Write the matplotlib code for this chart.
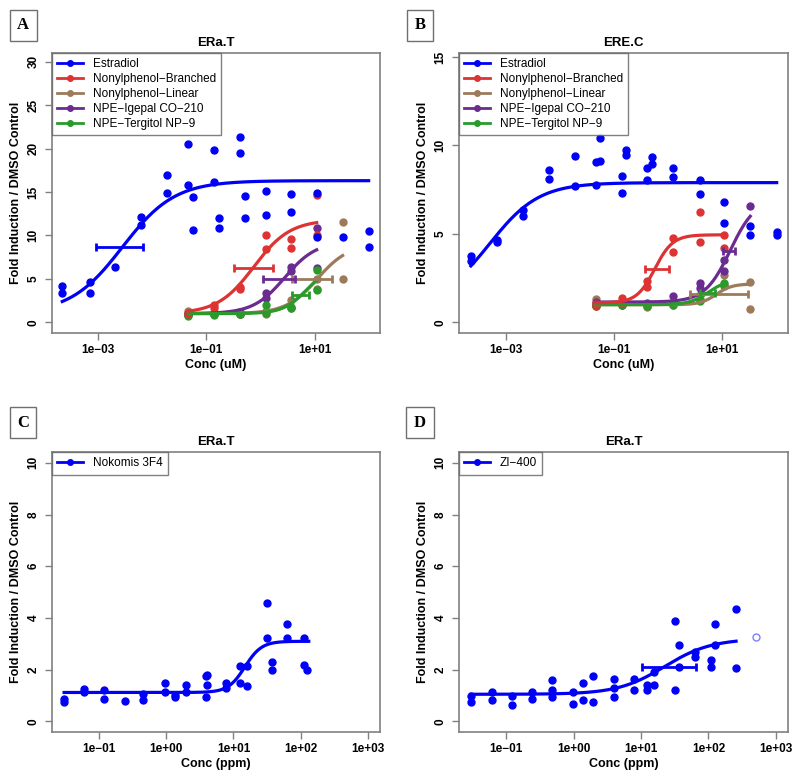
import numpy as np
import matplotlib.pyplot as plt
from matplotlib.lines import Line2D

plt.rcParams['font.family'] = ['Liberation Sans', 'DejaVu Sans']

# colours
BLUE = '#0000F5'
RED = '#DD3333'
BROWN = '#9C7B5B'
PURPLE = '#6A2C8F'
GREEN = '#2A9A2A'

# ---- Panel A: ERa.T (log10 conc in uM, fold induction) ----
A_E2_LOGC = [-3.66, -3.66, -3.15, -3.15, -2.68, -2.2, -2.2, -1.73, -1.73,
             -1.33, -1.33, -1.25, -1.25, -0.85, -0.85, -0.77, -0.77,
             -0.38, -0.38, -0.29, -0.29, 0.10, 0.10, 0.57, 0.57,
             1.04, 1.04, 1.52, 2.0, 2.0]
A_E2_RESP = [4.2, 3.4, 4.6, 3.4, 6.4, 12.1, 11.2, 16.9, 14.9,
             20.5, 15.8, 14.4, 10.6, 19.8, 16.1, 12.0, 10.8,
             21.3, 19.5, 14.5, 12.0, 15.1, 12.3, 14.8, 12.7,
             14.9, 9.8, 9.8, 10.5, 8.7]
A_NP_LOGC = [-1.33, -1.33, -0.86, -0.86, -0.38, -0.38, 0.10, 0.10, 0.57, 0.57, 1.04, 1.04]
A_NPB_RESP = [1.1, 0.9, 2.0, 1.7, 4.1, 3.8, 10.0, 8.4, 9.6, 8.5, 14.6, 10.0]
A_NPL_LOGC = A_NP_LOGC + [1.52, 1.52]
A_NPL_RESP = [1.3, 1.0, 1.1, 0.9, 1.0, 1.2, 1.0, 1.3, 2.6, 1.6, 5.0, 3.8, 11.5, 5.0]
A_IGE_RESP = [1.0, 0.8, 1.1, 1.0, 1.2, 1.0, 3.4, 2.8, 6.4, 5.9, 10.8, 6.2]
A_TER_RESP = [0.7, 0.9, 1.0, 0.8, 0.9, 1.0, 2.0, 1.1, 1.6, 1.8, 6.0, 3.7]

# Hill fits: bottom, top, log AC50, slope, log conc start, log conc end
A_E2_FIT = [1.0, 16.3, -2.55, 0.9, -3.66, 2.0]
A_NPB_FIT = [1.0, 11.8, -0.12, 1.3, -1.33, 1.04]
A_NPL_FIT = [1.0, 9.0, 1.05, 1.5, -1.33, 1.52]
A_IGE_FIT = [1.0, 9.3, 0.45, 1.5, -1.33, 1.04]
A_TER_FIT = [1.0, 6.4, 0.85, 2.0, -1.33, 1.04]
# AC50 confidence bars: response, log lo, log hi
A_E2_CI = [8.7, -3.04, -2.16]
A_NPB_CI = [6.2, -0.48, 0.23]
A_NPL_CI = [5.0, 0.58, 1.33]
A_IGE_CI = [5.0, 0.05, 0.64]
A_TER_CI = [3.1, 0.58, 0.90]

# ---- Panel B: ERE.C ----
B_E2_LOGC = [-3.65, -3.65, -3.17, -3.17, -2.68, -2.68, -2.2, -2.2, -1.72, -1.72,
             -1.33, -1.26, -1.26, -1.33, -0.85, -0.85, -0.77, -0.77,
             -0.38, -0.38, -0.29, -0.29, 0.10, 0.10, 0.59, 0.59,
             1.05, 1.05, 1.53, 1.53, 2.02, 2.02]
B_E2_RESP = [3.77, 3.45, 4.67, 4.52, 6.33, 6.03, 8.6, 8.1, 9.4, 7.7,
             9.05, 9.15, 10.4, 7.76, 8.25, 7.3, 9.76, 9.48,
             8.7, 8.07, 9.35, 8.95, 8.73, 8.2, 8.07, 7.26,
             6.8, 5.6, 5.43, 4.94, 5.1, 4.96]
B_NP_LOGC = [-1.33, -1.33, -0.85, -0.85, -0.38, -0.38, 0.10, 0.10, 0.59, 0.59, 1.05, 1.05]
B_NPB_RESP = [1.1, 0.95, 1.38, 1.1, 2.32, 1.98, 4.77, 3.96, 6.22, 4.54, 4.95, 4.2]
B_NPL_LOGC = B_NP_LOGC + [1.53, 1.53]
B_NPL_RESP = [1.3, 0.9, 1.0, 1.05, 0.85, 1.0, 1.0, 1.1, 1.3, 1.55, 2.7, 2.1, 2.3, 0.75]
B_IGE_LOGC = B_NP_LOGC + [1.53]
B_IGE_RESP = [1.15, 1.0, 1.1, 1.0, 1.0, 1.1, 1.47, 1.1, 2.22, 1.94, 3.54, 2.88, 6.6]
B_TER_RESP = [0.9, 1.0, 1.0, 1.05, 1.05, 0.95, 1.0, 1.1, 1.28, 1.2, 2.22, 2.04]

B_E2_FIT = [1.0, 7.9, -3.30, 0.95, -3.65, 2.02]
B_NPB_FIT = [1.1, 4.95, -0.24, 2.6, -1.33, 1.05]
B_NPL_FIT = [1.0, 2.17, 0.9, 3.0, -1.33, 1.53]
B_IGE_FIT = [1.15, 7.0, 1.16, 1.85, -1.33, 1.53]
B_TER_FIT = [1.0, 2.4, 0.75, 2.5, -1.33, 1.05]
B_NPB_CI = [3.03, -0.43, 0.03]
B_NPL_CI = [1.6, 0.41, 1.49]
B_IGE_CI = [4.05, 1.02, 1.25]
B_TER_CI = [1.68, 0.60, 0.88]

# ---- Panel C: Nokomis 3F4 (log10 conc in ppm) ----
C_LOGC = [-1.52, -1.52, -1.22, -1.22, -0.92, -0.92, -0.61, -0.34, -0.34,
          -0.02, -0.02, 0.13, 0.13, 0.29, 0.29, 0.59, 0.61, 0.61, 0.59,
          0.89, 0.89, 1.09, 1.09, 1.20, 1.20, 1.50, 1.50, 1.57, 1.57,
          1.79, 1.79, 2.05, 2.05, 2.10]
C_RESP = [0.86, 0.75, 1.25, 1.12, 1.2, 0.86, 0.8, 1.07, 0.84,
          1.48, 1.12, 1.03, 0.94, 1.42, 1.13, 1.76, 1.78, 1.39, 0.93,
          1.48, 1.31, 2.15, 1.48, 2.15, 1.38, 4.57, 3.22, 2.28, 2.0,
          3.76, 3.22, 3.22, 2.19, 1.97]
C_FIT = [1.12, 3.1, 1.17, 3.5, -1.52, 2.12]

# ---- Panel D: ZI-400 ----
D_LOGC = [-1.52, -1.52, -1.21, -1.21, -0.91, -0.91, -0.61, -0.61,
          -0.32, -0.32, -0.32, -0.01, -0.01, 0.14, 0.14, 0.29, 0.29,
          0.60, 0.60, 0.60, 0.90, 0.90, 1.09, 1.09, 1.19, 1.19,
          1.50, 1.50, 1.57, 1.57, 1.80, 1.80, 2.04, 2.04, 2.09, 2.09,
          2.41, 2.41]
D_RESP = [0.97, 0.75, 1.12, 0.84, 0.99, 0.62, 1.12, 0.86,
          1.61, 1.22, 0.94, 1.12, 0.68, 1.48, 0.84, 1.74, 0.75,
          1.63, 1.31, 0.93, 1.66, 1.2, 1.39, 1.22, 1.42, 1.93,
          3.9, 1.2, 2.96, 2.1, 2.7, 2.51, 2.38, 2.12, 3.76, 2.96,
          4.35, 2.08]
D_OUTLIER = [2.70, 3.26]
D_FIT = [1.05, 3.2, 1.35, 1.25, -1.52, 2.41]
D_CI = [2.1, 1.02, 1.81]


def hill(logc, fit):
    bottom, top, ac50, n = fit[:4]
    return bottom + (top - bottom) / (1 + 10 ** (n * (ac50 - logc)))


def draw_series(ax, logc, resp, fit, ci, color):
    ax.plot(10 ** np.array(logc), resp, 'o', color=color, ms=5, mec=color, zorder=3)
    xs = np.linspace(fit[4], fit[5], 200)
    ax.plot(10 ** xs, hill(xs, fit), color=color, lw=2.3, zorder=4)
    if ci is not None:
        mid = 10 ** ((ci[1] + ci[2]) / 2)
        ax.errorbar([mid], [ci[0]], xerr=[[mid - 10 ** ci[1]], [10 ** ci[2] - mid]],
                    fmt='none', ecolor=color, elinewidth=2, capsize=3, capthick=2, zorder=5)


def style_axes(ax, title, xlab, ylim, yticks, xlim, xticks):
    ax.set_xscale('log')
    ax.set_xlim(10 ** xlim[0], 10 ** xlim[1])
    ax.set_ylim(*ylim)
    ax.set_yticks(yticks)
    ax.set_xticks([10.0 ** k for k in xticks])
    ax.set_xticklabels([('1e%+03d' % k).replace('-', '\u2212') for k in xticks])
    ax.minorticks_off()
    for s in ax.spines.values():
        s.set_color('#808080')
        s.set_linewidth(1.2)
    ax.tick_params(colors='#808080', length=5, width=1, labelcolor='black', labelsize=8.5)
    ax.tick_params(axis='y', labelrotation=90, pad=4)
    ax.tick_params(axis='x', pad=3)
    for lab in ax.get_xticklabels() + ax.get_yticklabels():
        lab.set_fontweight('bold')
    for lab in ax.get_yticklabels():
        lab.set_va('center')
    ax.set_title(title, fontsize=9.5, fontweight='bold', pad=5)
    ax.set_xlabel(xlab, fontsize=9, fontweight='bold', labelpad=2)
    ax.set_ylabel('Fold Induction / DMSO Control', fontsize=9, fontweight='bold', labelpad=4)


def add_legend(ax, names, colors):
    handles = [Line2D([], [], color=c, lw=2, marker='o', ms=4) for c in colors]
    leg = ax.legend(handles, names, loc='upper left', borderaxespad=0, fancybox=False,
                    fontsize=8.5, handlelength=2.2, labelspacing=0.25, numpoints=1,
                    borderpad=0.45, handletextpad=0.8)
    leg.get_frame().set_edgecolor('#606060')
    leg.get_frame().set_linewidth(1.0)


fig = plt.figure(figsize=(8, 7.8), dpi=100)
ax_a = fig.add_axes([0.065, 0.5731, 0.41, 0.359])
ax_b = fig.add_axes([0.57375, 0.5731, 0.41125, 0.359])
ax_c = fig.add_axes([0.065, 0.0615, 0.41, 0.359])
ax_d = fig.add_axes([0.57375, 0.0615, 0.41125, 0.359])

names = ['Estradiol', 'Nonylphenol\u2212Branched', 'Nonylphenol\u2212Linear',
         'NPE\u2212Igepal CO\u2212210', 'NPE\u2212Tergitol NP\u22129']
cols = [BLUE, RED, BROWN, PURPLE, GREEN]

# panel A
draw_series(ax_a, A_NPL_LOGC, A_NPL_RESP, A_NPL_FIT, A_NPL_CI, BROWN)
draw_series(ax_a, A_NP_LOGC, A_IGE_RESP, A_IGE_FIT, A_IGE_CI, PURPLE)
draw_series(ax_a, A_NP_LOGC, A_TER_RESP, A_TER_FIT, A_TER_CI, GREEN)
draw_series(ax_a, A_NP_LOGC, A_NPB_RESP, A_NPB_FIT, A_NPB_CI, RED)
draw_series(ax_a, A_E2_LOGC, A_E2_RESP, A_E2_FIT, A_E2_CI, BLUE)
style_axes(ax_a, 'ERa.T', 'Conc (uM)', (-1.23, 31.0), [0, 5, 10, 15, 20, 25, 30],
           (-3.85, 2.21), [-3, -1, 1])
add_legend(ax_a, names, cols)

# panel B
draw_series(ax_b, B_NPL_LOGC, B_NPL_RESP, B_NPL_FIT, B_NPL_CI, BROWN)
draw_series(ax_b, B_IGE_LOGC, B_IGE_RESP, B_IGE_FIT, B_IGE_CI, PURPLE)
draw_series(ax_b, B_NP_LOGC, B_TER_RESP, B_TER_FIT, B_TER_CI, GREEN)
draw_series(ax_b, B_NP_LOGC, B_NPB_RESP, B_NPB_FIT, B_NPB_CI, RED)
draw_series(ax_b, B_E2_LOGC, B_E2_RESP, B_E2_FIT, None, BLUE)
style_axes(ax_b, 'ERE.C', 'Conc (uM)', (-0.6, 15.23), [0, 5, 10, 15],
           (-3.87, 2.23), [-3, -1, 1])
add_legend(ax_b, names, cols)

# panel C
draw_series(ax_c, C_LOGC, C_RESP, C_FIT, None, BLUE)
style_axes(ax_c, 'ERa.T', 'Conc (ppm)', (-0.41, 10.42), [0, 2, 4, 6, 8, 10],
           (-1.70, 3.18), [-1, 0, 1, 2, 3])
add_legend(ax_c, ['Nokomis 3F4'], [BLUE])

# panel D
draw_series(ax_d, D_LOGC, D_RESP, D_FIT, D_CI, BLUE)
ax_d.plot([10 ** D_OUTLIER[0]], [D_OUTLIER[1]], 'o', ms=5, mfc='none', mec='#8080FF', mew=1)
style_axes(ax_d, 'ERa.T', 'Conc (ppm)', (-0.41, 10.42), [0, 2, 4, 6, 8, 10],
           (-1.70, 3.18), [-1, 0, 1, 2, 3])
add_legend(ax_d, ['ZI\u2212400'], [BLUE])

# panel letters
for letter, x, y in [('A', 23, 25), ('B', 420, 25), ('C', 23, 423), ('D', 420, 423)]:
    fig.text(x / 800, 1 - y / 780, letter, family=['Liberation Serif', 'DejaVu Serif'],
             fontsize=12, fontweight='bold', ha='center', va='center',
             bbox=dict(boxstyle='square,pad=0.45', fc='white', ec='#707070', lw=1))

fig.savefig('out.png', dpi=100)
